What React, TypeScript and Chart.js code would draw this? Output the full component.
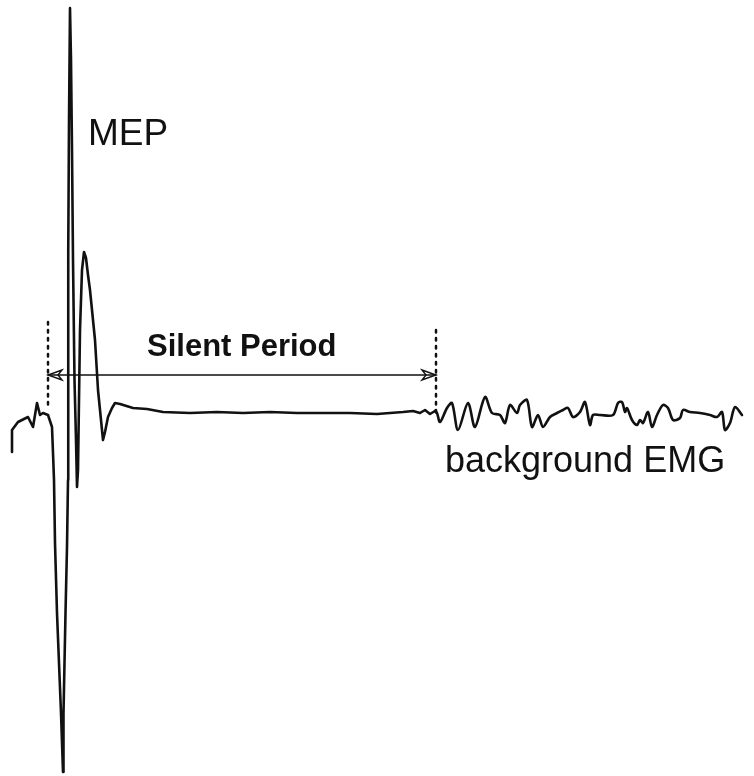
import React, { useEffect, useRef } from "react";
import { Chart, registerables } from "chart.js";

Chart.register(...registerables);

// EMG trace: time (arbitrary units) and amplitude (arbitrary units, baseline = 0)
const traceTime = [
  12, 12, 18, 28, 33, 37, 40, 43, 48, 52, 53, 54, 55, 57, 59, 61, 63,
  63.5, 64.5, 65.5, 67, 68, 68, 68.5, 69, 70, 71, 72, 73, 74.5, 76, 77,
  78, 79, 80, 82, 84, 86, 88, 90, 95, 98, 102, 103, 105, 108, 112, 115, 120, 133, 147, 163,
  190, 217, 243, 270, 297, 323, 350, 377, 403, 413, 420, 425, 430, 435,
  437, 440, 447, 452, 458, 468, 475, 485, 492, 500, 505, 510, 517, 520, 527, 532, 538, 543,
  550, 557, 563, 568, 573, 580, 585, 590, 593, 600, 613, 618, 622, 625, 627, 632, 637, 640,
  643, 648, 652, 657, 663, 668, 673, 680, 683, 690, 700, 710, 717, 722, 725, 730, 735, 742,
];
const traceAmp = [
  -39, -17, -9, -4, -14, 10, -2, 0, -2, -14, -40, -67, -130, -200, -250, -300, -359,
  -300, -250, -200, -134, -67, 13, 163, 293, 405, 353, 263, 153, 33, -27, -74,
  -57, 13, 83, 143, 161, 155, 138, 123, 73, 23, -17, -27, -19, -4, 5, 10, 9, 5, 4, 1,
  0, 1, 0, 1, 0, 0, 0, -1, 1, 2, 0, 3, -1, 2,
  0, -9, 5, 10, -17, 10, -14, 16, 0, -2, -10, 8, 0, 8, 13, -14, -2, -14,
  -4, 0, 3, 5, -4, 1, 11, -12, -2, -2, -2, 10, 11, 1, 5, -7, -12, -7,
  -10, 1, -14, -2, 8, 5, -7, -5, 3, 1, 0, -2, -4, 1, -17, -10, 6, -2,
];

// Silent period markers
const silentStart = 48;
const silentEnd = 436;
const arrowAmp = 38;
const leftMarkerAmp = [91, 7];
const rightMarkerAmp = [83, -1];

const labels = ["MEP", "Silent Period", "background EMG"];

const X_MIN = 0;
const X_MAX = 754;
const Y_MIN = -363;
const Y_MAX = 413;

const FONT = '"Liberation Sans", Arial, Helvetica, sans-serif';

const annotationPlugin = {
  id: "annotations",
  afterDatasetsDraw(chart: any) {
    const { ctx, scales } = chart;
    const xs = scales.x;
    const ys = scales.y;
    ctx.save();
    const yA = ys.getPixelForValue(arrowAmp);
    const xL = xs.getPixelForValue(silentStart);
    const xR = xs.getPixelForValue(silentEnd);
    ctx.strokeStyle = "#111";
    ctx.fillStyle = "#111";
    ctx.lineWidth = 1.4;
    const head = (tip: number, dir: number) => {
      ctx.beginPath();
      ctx.moveTo(tip + dir * 14, yA - 5);
      ctx.lineTo(tip, yA);
      ctx.lineTo(tip + dir * 14, yA + 5);
      ctx.lineTo(tip + dir * 10, yA);
      ctx.closePath();
      ctx.stroke();
    };
    head(xL, 1);
    head(xR, -1);

    const place = [
      { t: 88, a: 268, font: `37px ${FONT}` },
      { t: 147, a: 57, font: `bold 31px ${FONT}` },
      { t: 445, a: -59, font: `36px ${FONT}` },
    ];
    ctx.textBaseline = "alphabetic";
    ctx.textAlign = "left";
    labels.forEach((txt, i) => {
      const p = place[i];
      ctx.font = p.font;
      ctx.fillStyle = "#111";
      ctx.fillText(txt, xs.getPixelForValue(p.t), ys.getPixelForValue(p.a));
    });
    ctx.restore();
  },
};

export default function App() {
  const ref = useRef<HTMLCanvasElement | null>(null);

  useEffect(() => {
    if (!ref.current) return;
    const pts = traceTime.map((t, i) => ({ x: t, y: traceAmp[i] }));
    const mepPart = pts.filter((p) => p.x <= silentEnd);
    const bgPart = pts.filter((p) => p.x >= 435);
    const lineStyle = {
      showLine: true,
      borderColor: "#111",
      borderWidth: 2.6,
      pointRadius: 0,
      borderJoinStyle: "round",
    };
    const chart = new Chart(ref.current, {
      type: "scatter",
      data: {
        datasets: [
          { data: mepPart, tension: 0, ...lineStyle } as any,
          { data: bgPart, tension: 0.3, ...lineStyle } as any,
          {
            data: [
              { x: silentStart, y: arrowAmp },
              { x: silentEnd, y: arrowAmp },
            ],
            showLine: true,
            borderColor: "#111",
            borderWidth: 1.5,
            pointRadius: 0,
          },
          {
            data: [
              { x: silentStart, y: leftMarkerAmp[0] },
              { x: silentStart, y: leftMarkerAmp[1] },
            ],
            showLine: true,
            borderColor: "#111",
            borderWidth: 2.5,
            borderDash: [2.5, 5.5],
            pointRadius: 0,
          },
          {
            data: [
              { x: silentEnd, y: rightMarkerAmp[0] },
              { x: silentEnd, y: rightMarkerAmp[1] },
            ],
            showLine: true,
            borderColor: "#111",
            borderWidth: 2.5,
            borderDash: [2.5, 5.5],
            pointRadius: 0,
          },
        ],
      },
      options: {
        animation: false,
        responsive: false,
        maintainAspectRatio: false,
        layout: { padding: 0 },
        plugins: { legend: { display: false }, tooltip: { enabled: false } },
        scales: {
          x: { type: "linear", display: false, min: X_MIN, max: X_MAX },
          y: { type: "linear", display: false, min: Y_MIN, max: Y_MAX },
        },
        elements: { line: { borderCapStyle: "round" } },
      },
      plugins: [annotationPlugin],
    });
    return () => chart.destroy();
  }, []);

  return (
    <div style={{ position: "fixed", left: 0, top: 0, width: 754, height: 776, background: "#fff" }}>
      <canvas ref={ref} width={754} height={776} style={{ display: "block" }} />
    </div>
  );
}
